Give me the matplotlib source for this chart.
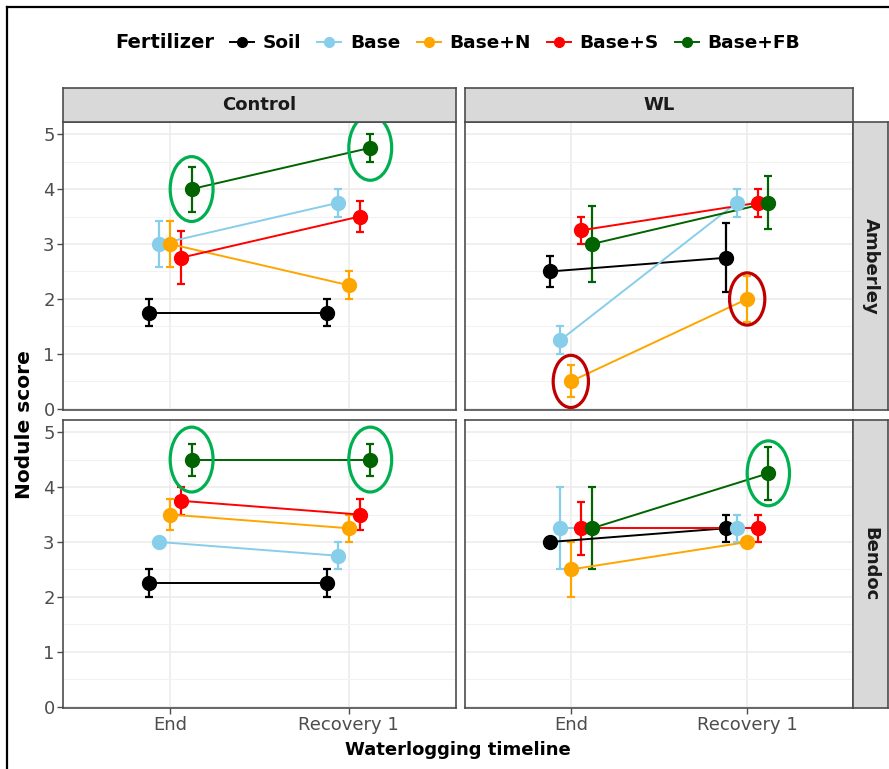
import matplotlib
matplotlib.use("Agg")
import matplotlib.pyplot as plt
from matplotlib.patches import Ellipse
from matplotlib.lines import Line2D

plt.rcParams['font.family'] = ['DejaVu Sans']

# data
treatments = ['Soil', 'Base', 'Base+N', 'Base+S', 'Base+FB']
colours = ['black', '#87CEEB', '#FFA500', '#FF0000', '#006400']
timepoints = ['End', 'Recovery 1']
treat_cols = ['Control', 'WL']
sites = ['Amberley', 'Bendoc']

# mean nodule score per fertilizer: [End, Recovery 1]
amberley_control_mean = [[1.75, 1.75], [3.0, 3.75], [3.0, 2.25], [2.75, 3.5], [4.0, 4.75]]
amberley_control_se = [[0.25, 0.25], [0.41, 0.25], [0.41, 0.25], [0.48, 0.29], [0.41, 0.25]]
amberley_wl_mean = [[2.5, 2.75], [1.25, 3.75], [0.5, 2.0], [3.25, 3.75], [3.0, 3.75]]
amberley_wl_se = [[0.29, 0.63], [0.25, 0.25], [0.29, 0.41], [0.25, 0.25], [0.7, 0.48]]
bendoc_control_mean = [[2.25, 2.25], [3.0, 2.75], [3.5, 3.25], [3.75, 3.5], [4.5, 4.5]]
bendoc_control_se = [[0.25, 0.25], [0.0, 0.25], [0.29, 0.25], [0.25, 0.29], [0.29, 0.29]]
bendoc_wl_mean = [[3.0, 3.25], [3.25, 3.25], [2.5, 3.0], [3.25, 3.25], [3.25, 4.25]]
bendoc_wl_se = [[0.0, 0.25], [0.75, 0.25], [0.5, 0.0], [0.48, 0.25], [0.75, 0.48]]

panels = {
    ('Amberley', 'Control'): (amberley_control_mean, amberley_control_se),
    ('Amberley', 'WL'): (amberley_wl_mean, amberley_wl_se),
    ('Bendoc', 'Control'): (bendoc_control_mean, bendoc_control_se),
    ('Bendoc', 'WL'): (bendoc_wl_mean, bendoc_wl_se),
}

# circled points (site, column, fertilizer, timepoint index, ring colour)
highlights = [
    ('Amberley', 'Control', 'Base+FB', 0, '#00B050'),
    ('Amberley', 'Control', 'Base+FB', 1, '#00B050'),
    ('Amberley', 'WL', 'Base+N', 0, '#C00000'),
    ('Amberley', 'WL', 'Base+N', 1, '#C00000'),
    ('Bendoc', 'Control', 'Base+FB', 0, '#00B050'),
    ('Bendoc', 'Control', 'Base+FB', 1, '#00B050'),
    ('Bendoc', 'WL', 'Base+FB', 1, '#00B050'),
]

W, H = 889, 769
fig = plt.figure(figsize=(W / 100, H / 100), dpi=100)


def px_rect(x0, y0, x1, y1):
    return [x0 / W, 1 - y1 / H, (x1 - x0) / W, (y1 - y0) / H]


col_x = {'Control': (63, 456), 'WL': (465, 853)}
row_y = {'Amberley': (122, 410), 'Bendoc': (420, 708)}
dodge = [-0.12, -0.06, 0.0, 0.06, 0.12]
border = '#4D4D4D'


def strip(rect, label, rot):
    sax = fig.add_axes(rect)
    sax.set_facecolor('#D9D9D9')
    sax.set_xticks([])
    sax.set_yticks([])
    for s in sax.spines.values():
        s.set_color(border)
        s.set_linewidth(1.2)
    sax.text(0.5, 0.5, label, ha='center', va='center', fontsize=13,
             fontweight='bold', color='#1A1A1A', rotation=rot,
             transform=sax.transAxes)


for (site, tc), (means, ses) in panels.items():
    x0, x1 = col_x[tc]
    y0, y1 = row_y[site]
    ax = fig.add_axes(px_rect(x0, y0, x1, y1))
    ax.set_xlim(0.4, 2.6)
    ax.set_ylim(-0.02, 5.22)
    ax.set_yticks(range(6))
    ax.set_yticks([0.5, 1.5, 2.5, 3.5, 4.5], minor=True)
    ax.set_xticks([1, 2])
    ax.grid(True, which='major', color='#EBEBEB', lw=1.1)
    ax.grid(True, which='minor', axis='y', color='#F2F2F2', lw=0.8)
    ax.set_axisbelow(True)
    for s in ax.spines.values():
        s.set_color(border)
        s.set_linewidth(1.2)
    ax.tick_params(axis='both', which='major', colors=border, length=4, width=1,
                   labelsize=13, labelcolor='#4D4D4D', pad=2)
    ax.tick_params(which='minor', length=0)
    if tc == 'Control':
        ax.set_yticklabels([str(v) for v in range(6)])
    else:
        ax.tick_params(axis='y', length=0, labelleft=False)
    if site == 'Bendoc':
        ax.set_xticklabels(timepoints)
    else:
        ax.tick_params(axis='x', length=0, labelbottom=False)

    for i, name in enumerate(treatments):
        xs = [1 + dodge[i], 2 + dodge[i]]
        ax.errorbar(xs, means[i], yerr=ses[i], fmt='none', ecolor=colours[i],
                    elinewidth=1.6, capsize=3, capthick=1.6, zorder=2)
        ax.plot(xs, means[i], color=colours[i], lw=1.4, zorder=3)
        ax.plot(xs, means[i], 'o', color=colours[i], ms=10, zorder=4)

    for h in highlights:
        if h[0] == site and h[1] == tc:
            i = treatments.index(h[2])
            x = 1 + h[3] + dodge[i]
            y = means[i][h[3]]
            if h[4] == '#C00000':
                w, hh = 0.2, 0.95
            else:
                w, hh = 0.24, 1.18
            ax.add_patch(Ellipse((x, y), w, hh, fill=False, ec=h[4], lw=2.3, zorder=5))

    if site == 'Amberley':
        strip(px_rect(x0, 88, x1, 122), tc, 0)
    if tc == 'WL':
        strip(px_rect(853, y0, 888, y1), site, -90)

# axis titles
fig.text(25 / W, 1 - 425 / H, 'Nodule score', rotation=90, ha='center', va='center',
         fontsize=14.5, fontweight='bold')
fig.text(458 / W, 1 - 750 / H, 'Waterlogging timeline', ha='center', va='center',
         fontsize=13, fontweight='bold')

# legend
fig.text(115 / W, 1 - 43 / H, 'Fertilizer', ha='left', va='center',
         fontsize=14, fontweight='bold')
handles = [Line2D([0], [0], color=c, lw=1.4, marker='o', ms=7) for c in colours]
leg = fig.legend(handles, treatments, loc='center left', bbox_to_anchor=(230 / W, 1 - 43 / H),
                 ncol=5, frameon=False, handlelength=1.3, handletextpad=0.45,
                 columnspacing=0.9, borderpad=0, borderaxespad=0,
                 prop={'size': 13.3, 'weight': 'bold'})

# outer frame
fig.add_artist(Line2D([7 / W, 7 / W], [0, 1 - 7 / H], color='black', lw=1.6))
fig.add_artist(Line2D([7 / W, 1], [1 - 7 / H, 1 - 7 / H], color='black', lw=1.6))

fig.savefig('out.png', dpi=100)
